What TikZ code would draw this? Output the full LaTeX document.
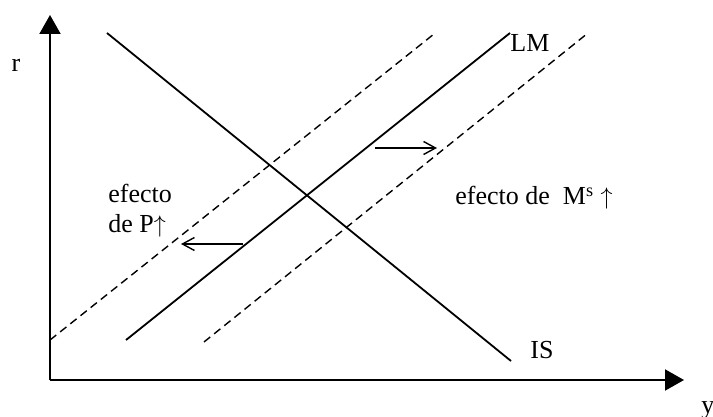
\documentclass[tikz,border=0pt]{standalone}
\usepackage{fontspec}
\setmainfont{Liberation Serif}
\usetikzlibrary{arrows.meta, positioning}
\definecolor{InkBlack}{RGB}{0,0,0}
\tikzset{
  axisline/.style={draw=InkBlack, line width=1pt,
    -{Triangle[length=9.5pt, width=10.5pt]}},
  curve/.style={draw=InkBlack, line width=0.9pt},
  shifted/.style={draw=InkBlack, line width=0.7pt, dash pattern=on 4pt off 2.5pt},
  move/.style={draw=InkBlack, line width=0.7pt,
    -{Straight Barb[length=6pt, width=6.5pt]}},
  lbl/.style={font=\fontsize{13}{15}\selectfont, text=InkBlack, inner sep=0pt}
}

\begin{document}
\begin{tikzpicture}[x=0.5pt, y=-0.5pt]
  \useasboundingbox (0,0) rectangle (713,417);

  % axes
  \coordinate (o) at (50,380);
  \coordinate (rtop) at (50,15);
  \coordinate (yend) at (684,380);
  \draw[axisline] (o) -- (rtop);
  \draw[axisline] (o) -- (yend);
  \node[lbl, anchor=base] (r) at (16,72) {r};
  \node[lbl, anchor=base west] (y) at (701,413) {y};

  % IS and LM
  \coordinate (is1) at (107,33);
  \coordinate (is2) at (511,361);
  \coordinate (lm1) at (126,340);
  \coordinate (lm2) at (510,33);
  \draw[curve] (is1) -- (is2);
  \draw[curve] (lm1) -- (lm2);
  \node[lbl, anchor=base west] (lm) at (510,52) {LM};
  \node[lbl, anchor=base west] (is) at (530,358) {IS};

  % shifted LM curves
  \coordinate (pl1) at (50,340);
  \coordinate (pl2) at (434,34);
  \coordinate (ms1) at (204,342);
  \coordinate (ms2) at (588,33);
  \draw[shifted] (pl1) -- (pl2);
  \draw[shifted] (ms1) -- (ms2);

  % shift arrows
  \coordinate (a1) at (243,244);
  \coordinate (a2) at (181,244);
  \coordinate (b1) at (375,148);
  \coordinate (b2) at (437,148);
  \draw[move] (a1) -- (a2);
  \draw[move] (b1) -- (b2);

  \node[lbl, anchor=base west] (p1) at (108,203) {efecto};
  \node[lbl, anchor=base west] (p2) at (108,233) {de P$\uparrow$};
  \node[lbl, anchor=base west] (m) at (455,205) {efecto de \ M\textsuperscript{s} $\uparrow$};
\end{tikzpicture}
\end{document}
